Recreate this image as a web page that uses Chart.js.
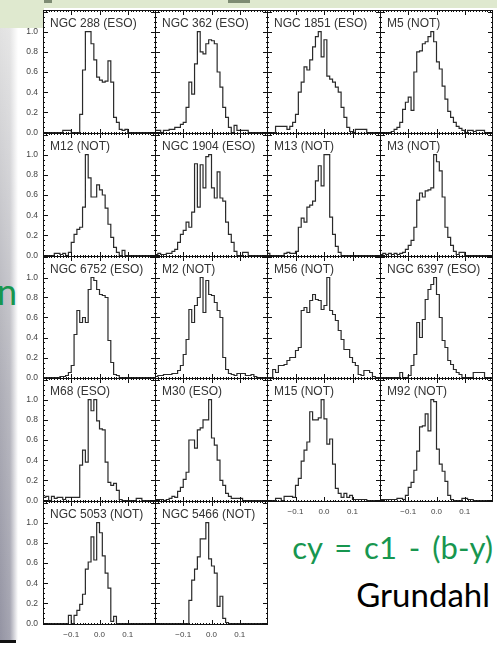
<!DOCTYPE html>
<html><head><meta charset="utf-8">
<script src="https://cdn.jsdelivr.net/npm/chart.js@4.4.1/dist/chart.umd.min.js"></script>
<style>
html,body{margin:0;padding:0;background:#fff;}
body{width:497px;height:646px;overflow:hidden;position:relative;font-family:Lato,"Open Sans",sans-serif;}
canvas{position:absolute;}
.bg{position:absolute;}
.txt{position:absolute;white-space:pre;}
</style></head>
<body>
<div class="bg" style="left:0;top:0;width:497px;height:8px;background:#dfe9cf;"></div>
<div class="bg" style="left:30px;top:0;width:22px;height:3px;background:#7d8b73;"></div>
<div class="bg" style="left:228px;top:0;width:22px;height:3px;background:#7d8b73;"></div>
<div class="bg" style="left:0;top:0;width:44px;height:28px;background:#dfe9cf;"></div>
<div class="bg" style="left:0;top:28px;width:18px;height:612px;background:linear-gradient(to right,rgba(255,255,255,0) 0%,rgba(255,255,255,0.15) 55%,#fff 100%),linear-gradient(to bottom,#e2e2e2,#adadb6 60%,#9494a3);"></div>
<div class="bg" style="left:0;top:640px;width:16px;height:3px;background:#111;"></div>
<div class="txt" style="left:-3px;top:273px;font-size:36px;line-height:36px;color:#17964f;">n</div>
<div class="txt" style="right:4px;top:532px;font-size:31px;line-height:31px;word-spacing:4px;color:#17964f;">cy = c1 - (b-y)</div>
<div class="txt" style="right:7px;top:578px;font-size:33px;line-height:33px;color:#000;">Grundahl</div>
<script>
// ---- data: normalised histograms, 40 bins of width 0.01 from -0.2 to 0.2 ----
const binStart = -0.2;
const binWidth = 0.01;
const panelNames = ["NGC 288 (ESO)","NGC 362 (ESO)","NGC 1851 (ESO)","M5 (NOT)",
  "M12 (NOT)","NGC 1904 (ESO)","M13 (NOT)","M3 (NOT)",
  "NGC 6752 (ESO)","M2 (NOT)","M56 (NOT)","NGC 6397 (ESO)",
  "M68 (ESO)","M30 (ESO)","M15 (NOT)","M92 (NOT)",
  "NGC 5053 (NOT)","NGC 5466 (NOT)"];
const ngc288 = [0,0,0,0,0,0,0,0,0.02,0.02,0.02,0,0,0,0.18,0.62,1.0,1.0,0.88,0.72,0.55,0.52,0.5,0.51,0.71,0.5,0.15,0.1,0.03,0.02,0.03,0,0,0,0,0,0,0,0,0];
const ngc362 = [0,0.02,0.02,0,0.02,0.02,0.03,0.03,0.05,0.05,0.08,0.1,0.25,0.5,0.38,0.68,1.0,0.8,0.78,0.88,0.92,0.91,0.88,0.6,0.45,0.25,0.15,0.05,0,0.07,0.02,0.02,0.02,0.02,0,0,0,0,0,0];
const ngc1851 = [0,0,0,0,0.06,0.06,0.06,0.06,0.03,0.06,0.1,0.18,0.4,0.5,0.65,0.62,0.72,0.85,0.95,1.0,0.75,0.92,0.56,0.53,0.5,0.45,0.4,0.25,0.15,0.05,0.01,0,0.03,0.03,0.03,0.03,0,0,0,0];
const m5 = [0,0,0,0,0,0.01,0.03,0.05,0.1,0.23,0.3,0.35,0.22,0.6,0.8,0.81,0.88,0.9,0.95,1.0,0.9,0.7,0.63,0.46,0.33,0.21,0.15,0.1,0.06,0.04,0.02,0,0.02,0.02,0.01,0.02,0.02,0.02,0,0];
const m12 = [0,0,0,0,0,0.02,0.02,0.01,0.02,0,0.03,0.13,0.21,0.26,0.28,0.48,1.0,0.77,0.58,0.58,0.7,0.65,0.6,0.47,0.31,0.18,0.08,0.03,0,0.05,0,0,0,0,0,0,0,0,0,0];
const ngc1904 = [0,0.01,0.02,0.01,0.01,0.02,0.02,0.04,0.06,0.13,0.21,0.25,0.33,0.28,0.43,0.91,0.48,0.9,0.67,0.98,1.0,0.67,0.57,0.83,0.57,0.54,0.33,0.21,0.13,0.04,0,0,0.03,0.03,0,0,0,0,0,0];
const m13 = [0.01,0.02,0,0,0,0,0,0.02,0.03,0.02,0.02,0.04,0.28,0.37,0.33,0.48,0.5,0.54,0.74,0.89,0.69,1.0,1.0,0.38,0.21,0.09,0.03,0,0,0,0,0,0,0,0,0,0,0,0,0];
const m3 = [0,0.01,0.02,0.01,0.02,0.01,0.02,0.01,0.02,0.03,0.06,0.1,0.15,0.28,0.55,0.62,0.58,0.64,0.65,0.67,1.0,0.93,0.84,0.58,0.28,0.18,0.1,0.04,0.01,0.03,0.03,0,0,0,0,0,0,0,0,0];
const ngc6752 = [0,0,0,0,0,0,0,0.01,0.01,0.02,0.05,0.12,0.43,0.67,0.55,0.6,0.55,0.88,1.0,0.97,0.88,0.83,0.82,0.8,0.37,0.15,0.03,0.02,0,0,0,0,0,0,0,0,0,0,0,0];
const m2 = [0.01,0.01,0.02,0.02,0.03,0.03,0.03,0.04,0.04,0.07,0.12,0.23,0.38,0.68,0.55,0.72,0.8,1.0,0.65,0.97,0.83,0.82,0.75,0.67,0.6,0.2,0.08,0.04,0.03,0.02,0.04,0.04,0.04,0.02,0.02,0.03,0.01,0,0,0];
const m56 = [0,0,0,0.08,0.05,0.12,0.12,0.13,0.17,0.2,0.2,0.27,0.3,0.67,0.7,0.65,0.77,0.83,0.78,0.77,0.68,0.72,1.0,0.67,0.63,0.57,0.47,0.38,0.28,0.28,0.2,0.15,0.12,0.03,0.02,0.07,0.07,0.05,0.01,0];
const ngc6397 = [0,0,0,0,0,0,0,0,0.05,0,0,0.02,0.12,0.23,0.55,0.4,0.58,0.78,0.88,0.93,1.0,0.83,0.6,0.37,0.3,0.17,0.13,0.08,0.05,0.03,0,0,0,0,0.05,0.05,0.05,0.05,0,0];
const m68 = [0.01,0.03,0.04,0,0.04,0.02,0.03,0.03,0.01,0.03,0.03,0.03,0.03,0.03,0.35,0.5,0.38,1.0,0.89,1.0,0.79,0.71,0.7,0.38,0.18,0.15,0.17,0.1,0.01,0,0,0,0,0,0.02,0.02,0,0,0,0];
const m30 = [0.01,0.01,0.01,0.01,0,0.01,0.02,0.04,0.03,0.09,0.13,0.21,0.28,0.6,0.6,0.52,0.7,0.72,0.8,0.8,1.0,0.62,0.55,0.4,0.2,0.15,0.07,0.04,0.02,0.02,0.02,0.02,0,0,0,0,0,0,0,0];
const m15 = [0,0,0,0,0.02,0.02,0,0.04,0.04,0.04,0.03,0.15,0.22,0.39,0.5,0.58,0.88,0.8,0.8,0.82,1.0,0.81,0.56,0.61,0.36,0.12,0.07,0.03,0.07,0.03,0.05,0.01,0.01,0.01,0.01,0.01,0,0,0,0];
const m92 = [0,0.01,0.01,0.01,0.01,0.01,0.01,0.02,0.02,0.01,0.05,0.13,0.18,0.3,0.49,0.73,0.74,0.86,0.69,1.0,0.98,0.51,0.36,0.29,0.19,0.05,0.01,0,0,0,0.02,0.02,0.01,0.01,0,0,0,0,0,0];
const ngc5053 = [0,0,0,0,0,0,0,0,0,0,0.08,0,0.08,0.13,0.19,0.29,0.54,0.61,0.86,0.63,1.0,0.9,0.67,0.5,0.35,0.02,0.07,0,0,0,0,0,0,0,0,0,0,0,0,0];
const ngc5466 = [0,0,0,0,0,0,0,0,0,0,0,0,0,0.23,0.43,0.54,0.66,0.84,0.84,1.0,0.64,0.57,0.5,0.17,0.27,0.05,0.01,0,0,0,0,0,0,0,0,0,0,0,0,0];
const panelValues = [ngc288,ngc362,ngc1851,m5,m12,ngc1904,m13,m3,ngc6752,m2,m56,ngc6397,m68,m30,m15,m92,ngc5053,ngc5466];
const yTickValues = [0,0.2,0.4,0.6,0.8,1.0];
const yTickLabels = ["0.0","0.2","0.4","0.6","0.8","1.0"];
const xTickValues = [-0.1,0,0.1];
const xTickLabels = ["\u22120.1","0.0","0.1"];

// ---- layout ----
const colX = [43,155,267,380,492];
const rowY = [10,133,256,378,501,624];
const Y_MIN = -0.015, Y_MAX = 1.215;
const LABEL_W = 30, LABEL_H = 18, EXTRA_B = 6;

const framePlugin = {
  id:'frame',
  afterDraw(chart){
    const {ctx, chartArea:a, scales} = chart;
    const xs = scales.x, ys = scales.y;
    ctx.save();
    ctx.strokeStyle = '#111';
    ctx.lineWidth = 1;
    ctx.beginPath();
    for (let k = -20; k <= 20; k++) {
      const px = Math.round(xs.getPixelForValue(k*0.01)) + 0.5;
      const len = (k % 10 === 0) ? 5 : 2;
      ctx.moveTo(px, a.bottom); ctx.lineTo(px, a.bottom - len);
      ctx.moveTo(px, a.top); ctx.lineTo(px, a.top + len);
    }
    for (let k = 0; k <= 24; k++) {
      const py = Math.round(ys.getPixelForValue(k*0.05)) + 0.5;
      const len = (k % 4 === 0) ? 5 : 2;
      ctx.moveTo(a.left, py); ctx.lineTo(a.left + len, py);
      ctx.moveTo(a.right, py); ctx.lineTo(a.right - len, py);
    }
    ctx.stroke();
    ctx.strokeRect(Math.round(a.left)+0.5, Math.round(a.top)+0.5, Math.round(a.right-a.left)-1, Math.round(a.bottom-a.top)-1);
    ctx.fillStyle = '#333';
    ctx.font = '12px "Liberation Sans", Arial, sans-serif';
    ctx.textBaseline = 'alphabetic';
    ctx.fillText(chart.options.panelName, a.left + 7, a.top + 17);
    ctx.restore();
  }
};

panelValues.forEach((vals, p) => {
  const r = Math.floor(p/4), c = p % 4;
  const showY = c === 0;
  const showX = r === 4 || (r === 3 && c >= 2);
  const extraB = (showY && !showX) ? EXTRA_B : 0;
  const cv = document.createElement('canvas');
  const w = colX[c+1]-colX[c]+1 + (showY?LABEL_W:0);
  const h = rowY[r+1]-rowY[r]+1 + (showX?LABEL_H:0) + extraB;
  cv.width = w; cv.height = h;
  cv.style.left = (colX[c] - (showY?LABEL_W:0)) + 'px';
  cv.style.top = rowY[r] + 'px';
  cv.style.width = w+'px'; cv.style.height = h+'px';
  cv.style.zIndex = showY ? 2 : 1;
  document.body.appendChild(cv);
  const pts = vals.map((v,i) => ({x: binStart + i*binWidth, y: v}));
  pts.push({x: binStart + vals.length*binWidth, y: vals[vals.length-1]});
  new Chart(cv, {
    type:'line',
    data:{datasets:[{data:pts, stepped:'after', borderColor:'#2a2a2a', borderWidth:1.2, pointRadius:0, fill:false, tension:0}]},
    options:{
      panelName: panelNames[p],
      responsive:false, animation:false, devicePixelRatio:1,
      layout:{padding:{left:0,right:0,top:0,bottom:extraB}, autoPadding:false},
      plugins:{legend:{display:false}, tooltip:{enabled:false}},
      scales:{
        x:{type:'linear', min:binStart, max:-binStart,
           grid:{display:false, drawTicks:false}, border:{display:false},
           ticks:{display:showX, padding:5, color:'#444', font:{family:'"Liberation Sans", Arial, sans-serif', size:8},
                  callback:(v,i)=>xTickLabels[i]},
           afterBuildTicks:(s)=>{ s.ticks = xTickValues.map(v=>({value:v})); },
           afterFit:(s)=>{ s.height = showX ? LABEL_H : 0; s.paddingLeft = 0; s.paddingRight = 0; }},
        y:{min:Y_MIN, max:Y_MAX,
           grid:{display:false, drawTicks:false}, border:{display:false},
           ticks:{display:showY, padding:5, color:'#444', font:{family:'"Liberation Sans", Arial, sans-serif', size:8.5},
                  callback:(v,i)=>yTickLabels[i]},
           afterBuildTicks:(s)=>{ s.ticks = yTickValues.map(v=>({value:v})); },
           afterFit:(s)=>{ s.width = showY ? LABEL_W : 0; s.paddingTop = 0; s.paddingBottom = 0; }}
      }
    },
    plugins:[framePlugin]
  });
});
</script>
</body></html>
